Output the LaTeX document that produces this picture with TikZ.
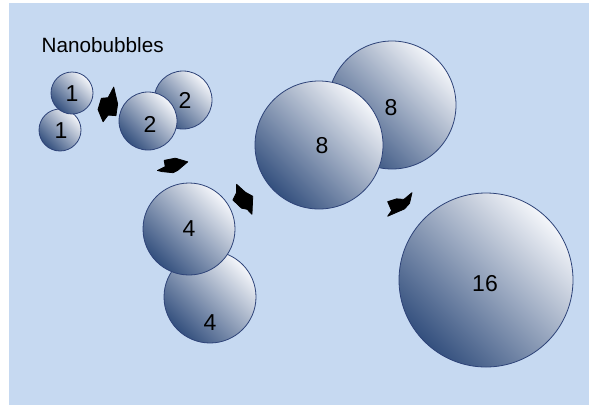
\documentclass[tikz,border=0pt]{standalone}
\usepackage{fontspec}
\setmainfont{Liberation Sans}
\definecolor{bgblue}{HTML}{C6D9F1}
\definecolor{rimblue}{HTML}{2E4378}
\definecolor{darkbub}{HTML}{34507E}
\definecolor{midbub}{HTML}{BAC5D5}
\definecolor{lightbub}{HTML}{F4F6FA}
\tikzset{
  bubble/.style={circle, inner sep=0pt, outer sep=0pt, draw=rimblue, line width=0.8pt,
    bottom color=darkbub, middle color=midbub, top color=lightbub, shading angle=-45,
    minimum size=#1},
  num/.style={inner sep=0pt, font=\fontsize{23}{23}\selectfont},
  blockarrow/.style={fill=black, draw=black, line width=0.8pt, line join=round}
}
\begin{document}
\begin{tikzpicture}[x=1pt,y=-1pt]
\useasboundingbox (0,0) rectangle (589,405);
\fill[white] (0,0) rectangle (589,405);
\fill[bgblue] (9,3) rectangle (589,405);

\node[anchor=base west, inner sep=0pt, font=\fontsize{20.7}{21}\selectfont] (title) at (41.5,52) {Nanobubbles};

% 1 + 1
\node[bubble=42pt] (b1b) at (60,130) {};
\node[num] (l1b) at (61,131) {1};
\node[bubble=42pt] (b1a) at (72,93) {};
\node[num] (l1a) at (72,94) {1};

% 2 + 2
\node[bubble=58pt] (b2b) at (183,100) {};
\node[num] (l2b) at (185,100) {2};
\node[bubble=58pt] (b2a) at (148,121) {};
\node[num] (l2a) at (150,124) {2};

% 4 + 4
\node[bubble=92pt] (b4b) at (210,297) {};
\node[num] (l4b) at (210,323) {4};
\node[bubble=92pt] (b4a) at (189,229) {};
\node[num] (l4a) at (189,229) {4};

% 8 + 8
\node[bubble=128pt] (b8b) at (392,105) {};
\node[num] (l8b) at (391,108) {8};
\node[bubble=128pt] (b8a) at (319,145) {};
\node[num] (l8a) at (322,146) {8};

% 16
\node[bubble=174pt] (b16) at (486,280) {};
\node[num] (l16) at (485,284) {16};

% arrows
\filldraw[blockarrow, scale around={1.12:(107,105)}] (113,89) -- (116.5,104) -- (115,114.5) -- (108,114) -- (103.5,120) -- (99,109) -- (102,99) -- (108,98.5) -- cycle;
\filldraw[blockarrow, scale around={1.12:(172,166)}] (165,161) -- (175,159) -- (186,162.3) -- (177,170) -- (173,172) -- (163,171) -- (159,170) -- (166,166.5) -- cycle;
\filldraw[blockarrow, scale around={1.12:(243,200)}] (237.3,186) -- (245,193) -- (251.7,196.7) -- (251,212.7) -- (246.7,208.3) -- (241.7,207.3) -- (234,200) -- (237.3,193.3) -- cycle;
\filldraw[blockarrow, scale around={1.12:(400,205)}] (410.7,194) -- (408.5,203.5) -- (404,208.5) -- (389,215) -- (392.5,210) -- (389,202) -- (397,199.5) -- (403.5,200) -- cycle;
\end{tikzpicture}
\end{document}
